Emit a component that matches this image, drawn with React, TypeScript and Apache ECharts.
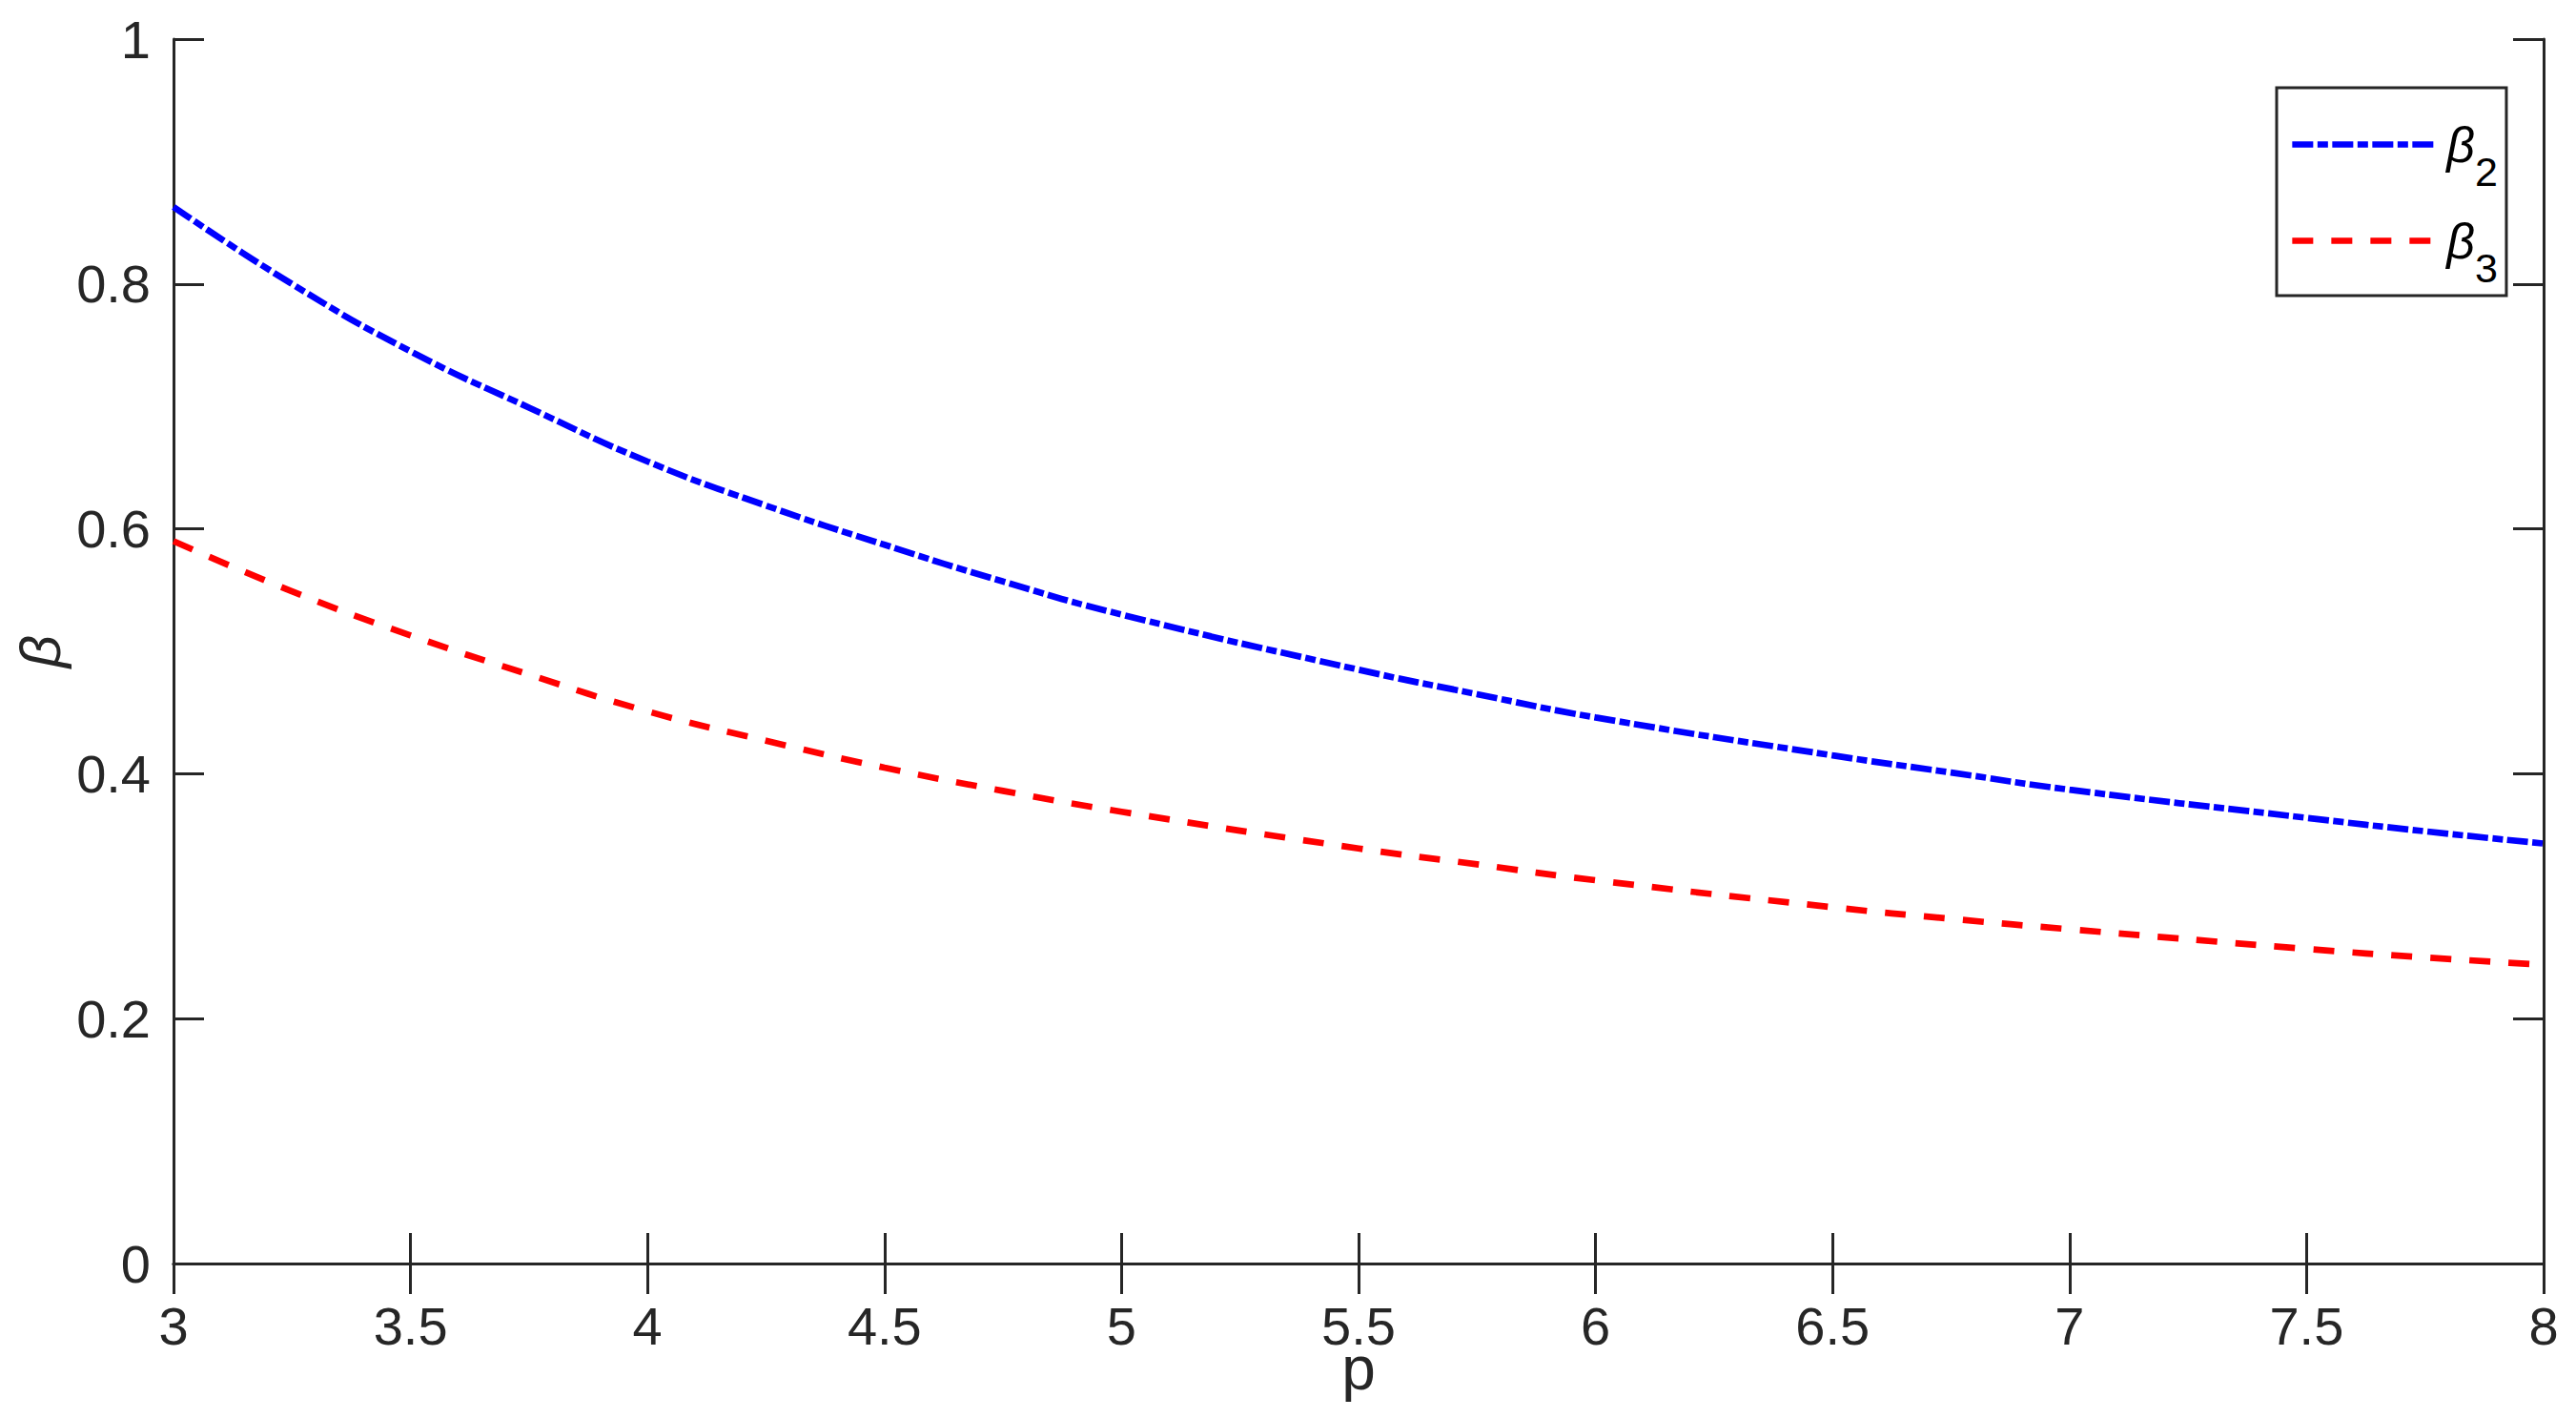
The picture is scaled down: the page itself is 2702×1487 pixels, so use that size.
import React, { useEffect, useRef } from "react";
import * as echarts from "echarts";

const pValues = [3, 3.25, 3.5, 3.75, 4, 4.25, 4.5, 4.75, 5, 5.5, 5.75, 6, 6.5, 6.75, 7, 7.5, 7.75, 8];
const beta2 = [0.863, 0.8, 0.745, 0.699, 0.655, 0.619, 0.587, 0.557, 0.53, 0.485, 0.465, 0.446, 0.415, 0.401, 0.387, 0.364, 0.353, 0.343];
const beta3 = [0.59, 0.549, 0.513, 0.481, 0.451, 0.427, 0.405, 0.386, 0.369, 0.339, 0.326, 0.313, 0.291, 0.2815, 0.273, 0.257, 0.25, 0.244];
const seriesNames = ["β2", "β3"];
const subscripts = ["2", "3"];

const AXIS = "#262626";
const FONT = '"Liberation Sans", Arial, Helvetica, sans-serif';

export default function App() {
  const ref = useRef<HTMLDivElement>(null);
  useEffect(() => {
    if (!ref.current) return;
    const chart = echarts.init(ref.current, undefined, { renderer: "svg" });
    const axisLine = { show: true, lineStyle: { color: AXIS, width: 3 } };
    const axisTick = { show: true, inside: true, length: 32, lineStyle: { color: AXIS, width: 3 } };
    const label = { color: AXIS, fontSize: 56, fontFamily: FONT };
    chart.setOption({
      animation: false,
      backgroundColor: "#fff",
      grid: { left: 182, top: 41, width: 2486, height: 1284, containLabel: false, outerBoundsMode: "none" },
      xAxis: [
        {
          type: "value", min: 3, max: 8, interval: 0.5, position: "bottom",
          axisLine, axisTick, splitLine: { show: false },
          axisLabel: { ...label, margin: 37 },
          name: "p", nameLocation: "middle", nameGap: 78, nameMoveOverlap: false,
          nameTextStyle: { color: AXIS, fontSize: 64, fontFamily: FONT },
        },
        {
          type: "value", min: 3, max: 8, interval: 0.5, position: "top",
          axisLine, axisTick, splitLine: { show: false }, axisLabel: { show: false },
        },
      ],
      yAxis: [
        {
          type: "value", min: 0, max: 1, interval: 0.2, position: "left",
          axisLine, axisTick, splitLine: { show: false },
          axisLabel: { ...label, margin: 24 },
          name: "β", nameLocation: "middle", nameGap: 110, nameRotate: 90, nameMoveOverlap: false,
          nameTextStyle: { color: AXIS, fontSize: 60, fontStyle: "italic", fontFamily: FONT },
        },
        {
          type: "value", min: 0, max: 1, interval: 0.2, position: "right",
          axisLine, axisTick, splitLine: { show: false }, axisLabel: { show: false },
        },
      ],
      legend: {
        orient: "vertical",
        left: 2388,
        top: 92,
        padding: [10, 9, 8, 13],
        itemWidth: 151,
        itemHeight: 40,
        itemGap: 2,
        borderColor: AXIS,
        borderWidth: 3,
        backgroundColor: "#fff",
        data: seriesNames,
        lineStyle: { width: 6.7 },
        itemStyle: { color: "rgba(0,0,0,0)", borderColor: "rgba(0,0,0,0)", borderWidth: 0 },
        formatter: (name: string) => `{b|β}{s|${subscripts[seriesNames.indexOf(name)]}}`,
        textStyle: {
          color: "#000",
          rich: {
            b: { fontSize: 52, fontStyle: "italic", fontFamily: FONT, color: "#000", padding: [0, 0, 0, 6], lineHeight: 60 },
            s: { fontSize: 43, fontFamily: FONT, color: "#000", padding: [56, 0, 0, 0], lineHeight: 46 },
          },
        },
      },
      series: [
        {
          name: seriesNames[0], type: "line", xAxisIndex: 0, yAxisIndex: 0,
          data: pValues.map((p, i) => [p, beta2[i]]),
          showSymbol: false, symbol: "none", smooth: true,
          lineStyle: { color: "#0000FF", width: 6.7, type: [22, 4.5, 11, 4.5], cap: "butt" },
          itemStyle: { color: "#0000FF" },
        },
        {
          name: seriesNames[1], type: "line", xAxisIndex: 0, yAxisIndex: 0,
          data: pValues.map((p, i) => [p, beta3[i]]),
          showSymbol: false, symbol: "none", smooth: true,
          lineStyle: { color: "#FF0000", width: 6.7, type: [22, 19], cap: "butt" },
          itemStyle: { color: "#FF0000" },
        },
      ],
    });
    return () => chart.dispose();
  }, []);
  return <div ref={ref} style={{ position: "fixed", left: 0, top: 0, width: 2702, height: 1487 }} />;
}
